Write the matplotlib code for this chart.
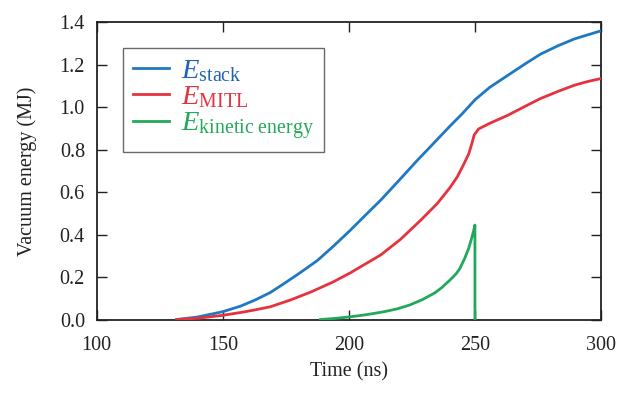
import matplotlib
matplotlib.use("Agg")
import matplotlib.pyplot as plt

plt.rcParams["font.family"] = ["Liberation Serif", "DejaVu Serif"]
plt.rcParams["mathtext.fontset"] = "custom"
plt.rcParams["mathtext.rm"] = "Liberation Serif"
plt.rcParams["mathtext.it"] = "Liberation Serif:italic"

# Stack energy (MJ) vs time (ns)
t_stack = [131.7, 140, 150, 157, 162.8, 168.8, 174.1, 180, 187.4, 194, 200.6, 206,
           212.6, 220, 227, 234, 240, 245, 250, 256, 263, 270, 276, 283, 289.5, 295, 300]
e_stack = [0.0, 0.012, 0.037, 0.063, 0.092, 0.127, 0.168, 0.215, 0.277, 0.347, 0.421, 0.485,
           0.562, 0.657, 0.748, 0.835, 0.91, 0.97, 1.035, 1.095, 1.15, 1.205, 1.25, 1.29,
           1.322, 1.342, 1.36]

# MITL energy
t_mitl = [131.7, 140, 150, 158, 163, 168.8, 176.8, 185, 193.9, 200.6, 206, 212.6, 220.5,
          228.5, 235.1, 240, 243, 245.5, 247.6, 248.8, 249.7, 251.5, 256, 263, 270, 276,
          283, 289.5, 295, 300]
e_mitl = [0.0, 0.006, 0.02, 0.035, 0.046, 0.06, 0.092, 0.13, 0.178, 0.22, 0.258, 0.304,
          0.378, 0.468, 0.547, 0.62, 0.672, 0.73, 0.782, 0.83, 0.87, 0.898, 0.925, 0.962,
          1.005, 1.041, 1.075, 1.104, 1.122, 1.135]

# Kinetic energy
t_kin = [188.7, 195, 200, 207, 214, 219, 224, 229, 234, 237, 240, 242.5, 244, 246,
         247.5, 248.5, 249.3, 250, 250]
e_kin = [0.0, 0.006, 0.012, 0.023, 0.037, 0.05, 0.068, 0.093, 0.125, 0.152, 0.185,
         0.215, 0.24, 0.29, 0.335, 0.375, 0.41, 0.445, 0.0]

labels = [r"$E_{\mathrm{stack}}$", r"$E_{\mathrm{MITL}}$",
          r"$E_{\mathrm{kinetic\ energy}}$"]
colors = ["#1f78c1", "#e4333f", "#22a85a"]
text_colors = ["#1f62b3", "#e4333f", "#22a85a"]

xticks = [100, 150, 200, 250, 300]
yticks = [0.0, 0.2, 0.4, 0.6, 0.8, 1.0, 1.2, 1.4]

fig = plt.figure(figsize=(6.3, 3.95), dpi=100)
ax = fig.add_axes([0.1535, 0.191, 0.8005, 0.7525])

lw = 2.0
ax.plot(t_stack, e_stack, color=colors[0], lw=lw, label=labels[0], zorder=3)
ax.plot(t_mitl, e_mitl, color=colors[1], lw=lw, label=labels[1], zorder=3)
ax.plot(t_kin, e_kin, color=colors[2], lw=lw, label=labels[2], zorder=3)

ax.set_xlim(100, 300)
ax.set_ylim(0, 1.4)
ax.set_xticks(xticks)
ax.set_yticks(yticks)
ax.set_yticklabels([f"{v:.1f}" for v in yticks])
ax.tick_params(direction="in", length=7, width=1.0, labelsize=14.5,
               top=True, right=True, colors="#222222")
ax.tick_params(axis="x", pad=12)
ax.tick_params(axis="y", pad=8.5)
for s in ax.spines.values():
    s.set_linewidth(1.3)
    s.set_color("#222222")

ax.set_xlabel("Time (ns)", fontsize=14.5, color="#222222", labelpad=5)
ax.set_ylabel("Vacuum energy (MJ)", fontsize=14.5, color="#222222", labelpad=16)

leg = ax.legend(loc="upper left", bbox_to_anchor=(0.052, 0.9135), borderaxespad=0,
                fontsize=20.5, frameon=True, fancybox=False, handlelength=1.25,
                handletextpad=0.42, labelspacing=0.0, borderpad=0.36)
leg.get_frame().set_edgecolor("#444444")
leg.get_frame().set_linewidth(1.0)
for txt, c in zip(leg.get_texts(), text_colors):
    txt.set_color(c)

fig.savefig("out.png", dpi=100)
